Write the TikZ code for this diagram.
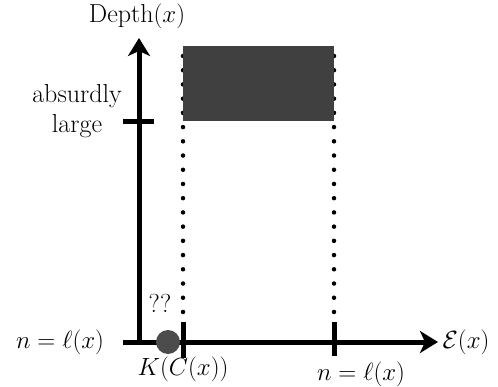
\documentclass[tikz,border=0pt]{standalone}
\usetikzlibrary{arrows.meta}
\begin{document}
\begin{tikzpicture}[x=1pt,y=-1pt,
  axis/.style={line width=5pt,-{Stealth[length=18pt,width=22pt,inset=5pt]}},
  tickmark/.style={line width=5pt},
  dotline/.style={line width=4.5pt,line cap=round,dash pattern=on 0pt off 14.22pt},
  lbl/.style={font=\fontsize{26}{30}\selectfont,text=black,inner sep=0pt},
  region/.style={fill=black!75,draw=none},
  marker/.style={circle,fill=black!70,minimum size=24pt,inner sep=0pt}]
\useasboundingbox (0,0) rectangle (498,387);
\coordinate (O) at (139,342);
\coordinate (ytop) at (139,38);
\coordinate (xleft) at (123,342);
\coordinate (xright) at (438,342);
% dotted lines
\coordinate (d1t) at (183,56);
\coordinate (d1b) at (183,312);
\coordinate (d2t) at (334,56);
\coordinate (d2b) at (334,312);
\draw[dotline] (d1t) -- (d1b);
\draw[dotline] (d2t) -- (d2b);
% region
\fill[region] (183,46) rectangle (334,121);
% axes
\draw[axis] (O) -- (ytop);
\draw[axis] (xleft) -- (xright);
% marker
\node[marker] (m) at (168,342) {};
% ticks
\coordinate (ty1) at (123,122);
\coordinate (ty2) at (154,122);
\draw[tickmark] (ty1) -- (ty2);
\coordinate (tx1a) at (183,322);
\coordinate (tx1b) at (183,358);
\draw[tickmark] (tx1a) -- (tx1b);
\coordinate (tx2a) at (334,322);
\coordinate (tx2b) at (334,356);
\draw[tickmark] (tx2a) -- (tx2b);
% labels
\node[lbl] (depth) at (137,16) {Depth$(x)$};
\node[lbl,align=center] (absurd) at (77,111) {absurdly\\large};
\node[lbl] (nleft) at (60,342) {$n=\ell(x)$};
\node[lbl] (ex) at (466,342) {$\mathcal{E}(x)$};
\node[lbl] (kc) at (183,369) {$K(C(x))$};
\node[lbl] (nright) at (361,374) {$n=\ell(x)$};
\node[lbl] (qq) at (160,303) {??};
\end{tikzpicture}
\end{document}
